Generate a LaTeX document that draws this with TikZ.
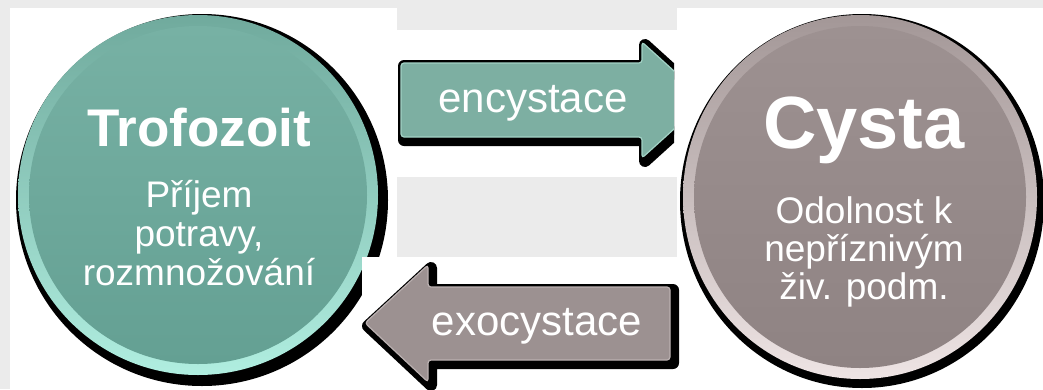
\documentclass[tikz,border=0pt]{standalone}
\usepackage{fontspec}
\setmainfont{Liberation Sans}
\definecolor{grain}{HTML}{EBEBEB}
\definecolor{tealtop}{HTML}{77B1A4}
\definecolor{tealbot}{HTML}{64A093}
\definecolor{tealrimtop}{HTML}{70AA9D}
\definecolor{tealrimbot}{HTML}{B0EEE0}
\definecolor{cystop}{HTML}{9D9191}
\definecolor{cysbot}{HTML}{8F8383}
\definecolor{cysrimtop}{HTML}{A39797}
\definecolor{cysrimbot}{HTML}{EEE4E4}
\definecolor{encfill}{HTML}{7DAFA2}
\definecolor{encedge}{HTML}{A2D2C5}
\definecolor{exofill}{HTML}{9C9191}
\definecolor{exoedge}{HTML}{BBB1B1}
\begin{document}
\begin{tikzpicture}[x=1pt,y=-1pt,
  panel/.style={fill=white},
  dropshadow/.style={fill=black,draw=black,line width=12pt,line join=round},
  blockarrow/.style={rounded corners=3pt,line width=1.2pt},
  arrowlabel/.style={text=white,inner sep=0pt,anchor=base,
    font=\fontsize{42}{42}\selectfont},
  stagetitle/.style={text=white,inner sep=0pt,anchor=base},
  stagebody/.style={text=white,inner sep=0pt,anchor=base,align=center,
    font=\fontsize{37}{39}\selectfont}]

% canvas and textured backdrop
\useasboundingbox (0,0) rectangle (1043,389);
\fill[grain] (0,0) rectangle (1043,389);

% white panels behind the circles and the upper arrow
\fill[panel] (10,8) rectangle (397,389);
\fill[panel] (677,8) rectangle (1043,389);
\fill[panel] (397,30) rectangle (677,177);

% centres of the two stages
\coordinate (trofc) at (198,195);
\coordinate (cystc) at (860,197);

% Trofozoit disc: drop shadow, bevel rim, face
\fill[black] ([shift={(4,5)}]trofc) circle [radius=186pt];
\shade[top color=tealrimtop,bottom color=tealrimbot] (trofc) circle [radius=180pt];
\shade[top color=tealtop,bottom color=tealbot] (trofc) circle [radius=169pt];

% white panel behind the lower arrow (it trims the disc)
\fill[panel] (362,257) rectangle (680,389);

% Cysta disc: drop shadow, bevel rim, face
\fill[black] ([shift={(2,4)}]cystc) circle [x radius=182pt,y radius=187pt];
\shade[top color=cysrimtop,bottom color=cysrimbot] (cystc) circle [x radius=177pt,y radius=182pt];
\shade[top color=cystop,bottom color=cysbot] (cystc) circle [x radius=166pt,y radius=171pt];

% arrow "encystace" (trimmed by its panel)
\begin{scope}
  \clip (397,30) rectangle (674,177);
  \filldraw[dropshadow,shift={(3,3)}]
    (401,63) -- (642,63) -- (642,42) -- (706,100) -- (642,158) -- (642,137) -- (401,137) -- cycle;
  \filldraw[blockarrow,fill=encfill,draw=encedge]
    (401,63) -- (642,63) -- (642,42) -- (706,100) -- (642,158) -- (642,137) -- (401,137) -- cycle;
\end{scope}

% arrow "exocystace"
\filldraw[dropshadow,shift={(3,3)}]
  (670,287) -- (428,287) -- (428,265) -- (365,323) -- (428,382) -- (428,360) -- (670,360) -- cycle;
\filldraw[blockarrow,fill=exofill,draw=exoedge]
  (670,287) -- (428,287) -- (428,265) -- (365,323) -- (428,382) -- (428,360) -- (670,360) -- cycle;

% labels
\node[arrowlabel] (enc) at (533,112) {encystace};
\node[arrowlabel] (exo) at (537,335) {exocystace};

\node[stagetitle,font=\fontsize{53}{53}\selectfont\bfseries] (trof) at (199,146) {Trofozoit};
\node[stagebody] (trofdesc) at (199,207) {Příjem};
\node[stagebody] (trofdesc2) at (199,246) {potravy,};
\node[stagebody] (trofdesc3) at (199,285) {rozmnožování};

\node[stagetitle,font=\fontsize{74}{74}\selectfont\bfseries] (cyst) at (864,148) {Cysta};
\node[stagebody] (cystdesc) at (864,223) {Odolnost k};
\node[stagebody] (cystdesc2) at (864,261) {nepříznivým};
\node[stagebody] (cystdesc3) at (864,299) {živ. podm.};
\end{tikzpicture}
\end{document}
